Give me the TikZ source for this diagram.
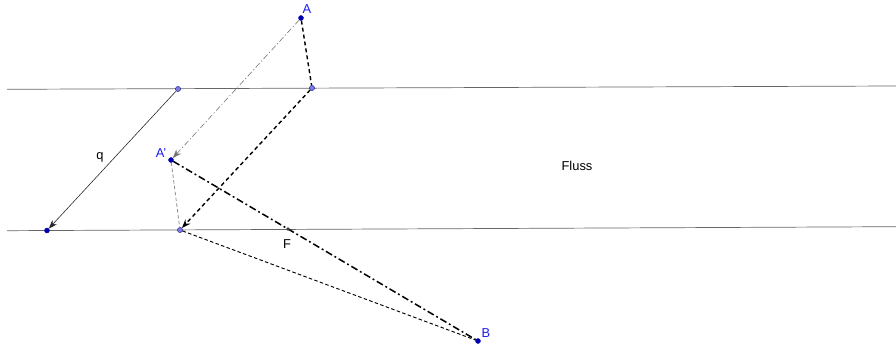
\documentclass[tikz,border=0pt]{standalone}
\usepackage{fontspec}
\setmainfont{Liberation Sans}
\usetikzlibrary{arrows.meta}
\definecolor{ggblue}{HTML}{0000B0}
\definecolor{gglight}{HTML}{7C7CE0}
\definecolor{gglabel}{HTML}{1A1AE6}
\definecolor{ggline}{HTML}{666666}

\begin{document}
\begin{tikzpicture}[x=0.03cm, y=-0.03cm, font=\fontsize{11}{13}\selectfont,
  pt/.style={circle, fill=ggblue, draw=ggblue, inner sep=0pt, minimum size=4.2pt},
  ptl/.style={circle, fill=gglight, draw=ggblue!70!black, line width=0.3pt, inner sep=0pt, minimum size=4.4pt},
  lab/.style={text=gglabel, inner sep=1pt},
  river/.style={draw=ggline, line width=0.6pt},
  arr/.style={-{Stealth[length=2.6mm,width=1.9mm]}},
  thickdash/.style={draw=black, line width=1.2pt, dash pattern=on 3.4pt off 2.6pt},
  thindash/.style={draw=black!80, line width=0.6pt, dash pattern=on 3pt off 2pt},
  thickdashdot/.style={draw=black, line width=1.3pt, dash pattern=on 6pt off 2.5pt on 1.6pt off 2.5pt},
  thindashdot/.style={draw=black!55, line width=0.5pt, dash pattern=on 5pt off 2pt on 1pt off 2pt}]
\useasboundingbox (0,0) rectangle (896,345);
% Flussufer
\coordinate (oberL) at (7,89.3);
\coordinate (oberR) at (896,86);
\coordinate (unterL) at (7,230.7);
\coordinate (unterR) at (896,226.7);
\draw[river] (oberL) -- (oberR);
\draw[river] (unterL) -- (unterR);
% Punkte
\node[pt] (pA) at (301,18) {};
\node[pt] (pAs) at (171,160) {};
\node[pt] (pB) at (478,341) {};
\node[pt] (pQ) at (47,230.5) {};
\node[ptl] (pQs) at (178,89) {};
\node[ptl] (pO) at (312,88) {};
\node[ptl] (pU) at (180,230) {};
% Beschriftungen
\node[lab] (lA) at (307,9) {A};
\node[lab] (lAs) at (161,153) {A'};
\node[lab] (lB) at (486,333) {B};
\node (lq) at (100,157) {q};
\node (lF) at (287,244) {F};
\node (lFluss) at (577,166) {Fluss};
% Verbindungen
\draw[arr, draw=black!85, line width=0.5pt] (pQs) -- (pQ);
\draw[arr, thindashdot] (pA) -- (pAs);
\draw[thickdash] (pA) -- (pO);
\draw[arr, thickdash] (pO) -- (pU);
\draw[thindash, draw=black!50] (pAs) -- (pU);
\draw[thindash, line width=0.8pt, draw=black] (pU) -- (pB);
\draw[thickdashdot] (pAs) -- (pB);
\node[circle, fill=black!75, inner sep=0pt, minimum size=3pt] (pF) at (288,229) {};
\end{tikzpicture}
\end{document}
